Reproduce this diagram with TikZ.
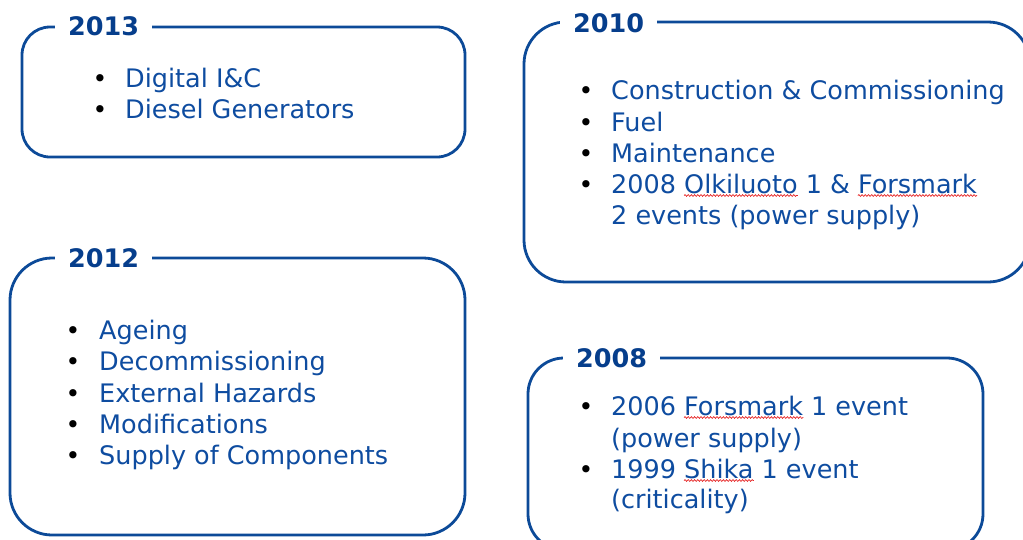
\documentclass[tikz,border=0pt]{standalone}
\usepackage{fontspec}
\setmainfont{DejaVu Sans}
\usetikzlibrary{decorations.pathmorphing}
\definecolor{boxblue}{RGB}{12,74,152}
\definecolor{txtblue}{RGB}{14,76,160}
\definecolor{titblue}{RGB}{6,62,140}
\definecolor{squig}{RGB}{230,40,40}
\newcommand\squigword[2]{\tikz[baseline=(#1.base)]{\node[inner sep=0pt] (#1) {#2};
  \draw[overlay, squig, line width=0.7pt, decorate, decoration={snake, amplitude=0.9pt, segment length=3.2pt}] ([yshift=-2.5pt]#1.base west) -- ([yshift=-2.5pt]#1.base east);}}
\tikzset{
  x=1pt, y=-1pt,
  yearbox/.style={draw=boxblue, line width=2.8pt},
  yeartitle/.style={anchor=base west, fill=white, inner xsep=13pt, inner ysep=2pt, text=titblue, font=\fontsize{25.5}{30}\selectfont\bfseries},
  itemtext/.style={anchor=base west, inner sep=0pt, text=txtblue, font=\fontsize{25.5}{30}\selectfont},
  bulletdot/.style={anchor=base, inner sep=0pt, text=black, font=\fontsize{25}{30}\selectfont},
}
\begin{document}
\begin{tikzpicture}
\useasboundingbox (0,0) rectangle (1023,539);
% boxes
\draw[yearbox, rounded corners=28pt] (22,27) rectangle (465,157);
\draw[yearbox, rounded corners=42pt] (524,22) rectangle (1030,282);
\draw[yearbox, rounded corners=42pt] (10,258) rectangle (465,535);
\draw[yearbox, rounded corners=36pt] (528,358) rectangle (983,550);
% titles
\node[yeartitle] (t2013) at (55,35) {2013};
\node[yeartitle] (t2010) at (560,32) {2010};
\node[yeartitle] (t2012) at (55,267) {2012};
\node[yeartitle] (t2008) at (563,367) {2008};
% 2013
\node[bulletdot] (b13a) at (100,87) {•};
\node[itemtext] (i13a) at (125,87) {Digital I\&C};
\node[bulletdot] (b13b) at (100,118) {•};
\node[itemtext] (i13b) at (125,118) {Diesel Generators};
% 2010
\node[bulletdot] (b10a) at (586,99) {•};
\node[itemtext] (i10a) at (611,99) {Construction \& Commissioning};
\node[bulletdot] (b10b) at (586,131) {•};
\node[itemtext] (i10b) at (611,131) {Fuel};
\node[bulletdot] (b10c) at (586,162) {•};
\node[itemtext] (i10c) at (611,162) {Maintenance};
\node[bulletdot] (b10d) at (586,193) {•};
\node[itemtext] (i10d) at (611,193) {2008 \squigword{wolk}{Olkiluoto} 1 \& \squigword{wfor}{Forsmark}};
\node[itemtext] (i10e) at (611,224) {2 events (power supply)};
% 2012
\node[bulletdot] (b12a) at (73,339) {•};
\node[itemtext] (i12a) at (99,339) {Ageing};
\node[bulletdot] (b12b) at (73,370) {•};
\node[itemtext] (i12b) at (99,370) {Decommissioning};
\node[bulletdot] (b12c) at (73,402) {•};
\node[itemtext] (i12c) at (99,402) {External Hazards};
\node[bulletdot] (b12d) at (73,433) {•};
\node[itemtext] (i12d) at (99,433) {Modifications};
\node[bulletdot] (b12e) at (73,464) {•};
\node[itemtext] (i12e) at (99,464) {Supply of Components};
% 2008
\node[bulletdot] (b08a) at (586,415) {•};
\node[itemtext] (i08a) at (611,415) {2006 \squigword{wfor2}{Forsmark} 1 event};
\node[itemtext] (i08b) at (611,447) {(power supply)};
\node[bulletdot] (b08c) at (586,478) {•};
\node[itemtext] (i08c) at (611,478) {1999 \squigword{wshi}{Shika} 1 event};
\node[itemtext] (i08d) at (611,508) {(criticality)};
\end{tikzpicture}
\end{document}
